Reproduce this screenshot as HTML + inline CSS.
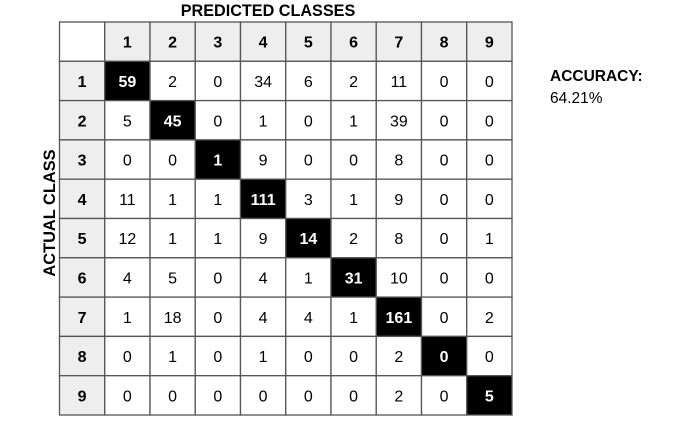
<!DOCTYPE html>
<html><head><meta charset="utf-8"><style>
body{margin:0;background:#fff;width:673px;height:419px;overflow:hidden;font-family:"Liberation Sans",Arial,sans-serif}
</style></head><body>
<svg id="chart" width="673" height="419" xmlns="http://www.w3.org/2000/svg" font-family="Liberation Sans, Arial, sans-serif">
<text x="268" y="16" text-anchor="middle" font-weight="bold" font-size="16.2">PREDICTED CLASSES</text>
<text transform="translate(55,213) rotate(-90)" text-anchor="middle" font-weight="bold" font-size="16.4">ACTUAL CLASS</text>
<text x="550" y="81" font-weight="bold" font-size="15.5">ACCURACY:</text>
<text x="550" y="103" font-size="15.5">64.21%</text>
<g id="grid"></g>
</svg>
<script>
const classes=["1","2","3","4","5","6","7","8","9"];
const row1=[59,2,0,34,6,2,11,0,0];
const row2=[5,45,0,1,0,1,39,0,0];
const row3=[0,0,1,9,0,0,8,0,0];
const row4=[11,1,1,111,3,1,9,0,0];
const row5=[12,1,1,9,14,2,8,0,1];
const row6=[4,5,0,4,1,31,10,0,0];
const row7=[1,18,0,4,4,1,161,0,2];
const row8=[0,1,0,1,0,0,2,0,0];
const row9=[0,0,0,0,0,0,2,0,5];
const matrix=[row1,row2,row3,row4,row5,row6,row7,row8,row9];
const NS="http://www.w3.org/2000/svg";
const g=document.getElementById('grid');
const x0=59.5,y0=22,cw=45.25,ch=39.3;
function cx(i){return x0+cw*(i+1);}
function cy(j){return y0+ch*(j+1);}
function cell(x,y,fill,txt,bold,color,name){
  const r=document.createElementNS(NS,'rect');
  r.setAttribute('x',x);r.setAttribute('y',y);r.setAttribute('width',cw);r.setAttribute('height',ch);
  r.setAttribute('fill',fill);r.setAttribute('stroke','#555');r.setAttribute('stroke-width','1.3');
  
  
  g.appendChild(r);
  if(txt!==null){
    const t=document.createElementNS(NS,'text');
    t.setAttribute('x',x+cw/2);t.setAttribute('y',y+ch/2+6);
    t.setAttribute('text-anchor','middle');t.setAttribute('font-size','16');
    if(bold)t.setAttribute('font-weight','bold');
    t.setAttribute('fill',color);
    t.textContent=txt;
    
    
    g.appendChild(t);
  }
}
cell(x0,y0,'#fff',null,false,'#000','corner-cell');
classes.forEach((c,i)=>{cell(cx(i),y0,'#eeeeee',c,true,'#000','col-header-'+c);});
classes.forEach((c,j)=>{
  cell(x0,cy(j),'#eeeeee',c,true,'#000','row-header-'+c);
  matrix[j].forEach((v,i)=>{
    const diag=i===j;
    cell(cx(i),cy(j),diag?'#000':'#fff',String(v),diag,diag?'#fff':'#000','cell-'+c+'-'+classes[i]);
  });
});
</script>
</body></html>
